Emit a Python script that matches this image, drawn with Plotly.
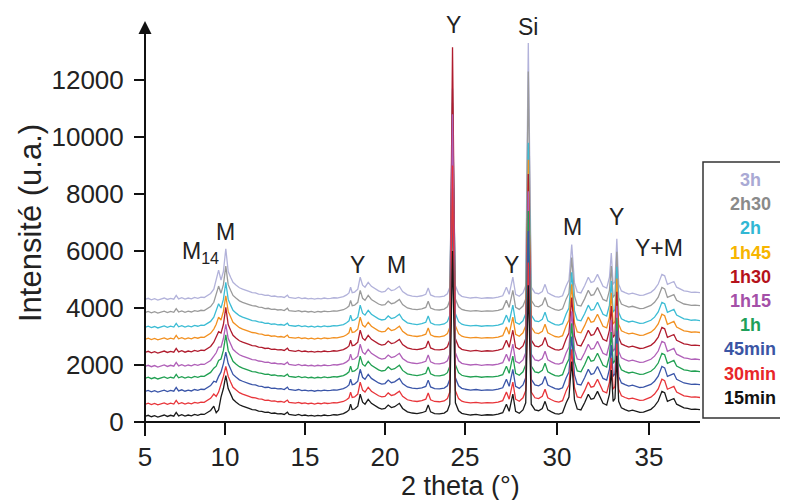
import plotly.graph_objects as go

# ---------------- data ----------------
series = ["15min", "30min", "45min", "1h", "1h15", "1h30", "1h45", "2h", "2h30", "3h"]
line_colors = ["#1a1a1a", "#e8353a", "#3a55a8", "#21a052", "#b060b8",
               "#b01c2e", "#f29020", "#3cbcd4", "#9a9a9a", "#b2b2da"]
text_colors = ["#111111", "#e8262a", "#3a55a4", "#1fa05a", "#a450a8",
               "#b5121b", "#f7b500", "#31b7d4", "#8a8a8a", "#a9a9d4"]

# vertical offset (baseline) of every pattern
baselines = [175, 600, 1050, 1510, 1930, 2420, 2880, 3300, 3820, 4280]
# per-pattern heights above baseline of the M14 shoulder and the M peak
m14_a = [150, 300, 350, 450, 500, 550, 550, 600, 700, 750]
m14_b = [250, 450, 550, 650, 700, 750, 800, 850, 950, 1050]
m_peak = [1450, 1350, 1400, 1550, 1500, 1600, 1550, 1600, 1650, 1800]
# absolute tops of the two very intense lines
y_top = [6000, 9000, 8200, 7600, 10800, 13150, 9800, 11700, 11200, 10600]
si_top = [4800, 5600, 6700, 7400, 8100, 8700, 9200, 9800, 12300, 13300]

# common diffractogram shape (intensity above baseline), 5-25 deg
tt_low = [5.0, 5.2, 5.4, 5.6, 5.8, 6.0, 6.2, 6.4, 6.6, 6.8, 6.95, 7.1, 7.3, 7.5, 7.7,
          7.9, 8.1, 8.3, 8.5, 8.7, 8.9, 9.1, 9.3, 9.45, 9.6, 9.75, 9.9, 10.05, 10.2,
          10.35, 10.5, 10.7, 10.9, 11.1, 11.3, 11.5, 11.7, 11.9, 12.1, 12.3, 12.5,
          12.7, 12.9, 13.1, 13.3, 13.5, 13.7, 13.9, 14.0, 14.2, 14.4, 14.6, 14.8,
          15.0, 15.2, 15.4, 15.6, 15.8, 16.0, 16.2, 16.4, 16.6, 16.8, 17.0, 17.2,
          17.4, 17.6, 17.75, 17.85, 17.95, 18.1, 18.3, 18.45, 18.6, 18.75, 18.95,
          19.15, 19.4, 19.6, 19.8, 20.0, 20.2, 20.4, 20.6, 20.9, 21.1, 21.4, 21.7,
          22.0, 22.3, 22.55, 22.7, 22.85, 23.1, 23.4, 23.7, 23.9, 24.05, 24.22,
          24.4, 24.6, 24.8, 25.0]
prof_low = [20, 60, 10, 50, 0, 40, 70, 20, 60, 30, 160, 40, 80, 30, 70,
            40, 90, 60, 100, 90, 150, 230, 380, "M14a", "M14b", 700, 1000, "M", 1000,
            800, 620, 520, 430, 380, 330, 300, 260, 250, 210, 200, 160,
            170, 130, 140, 110, 120, 90, 170, 90, 80, 60, 90, 50,
            70, 40, 60, 30, 60, 40, 70, 50, 60, 80, 70, 100,
            120, 180, 250, 450, 260, 280, 380, 800, 520, 450, 620,
            480, 380, 320, 280, 300, 420, 330, 360, 480, 300, 180, 140,
            120, 150, 200, 420, 180, 120, 110, 140, 220, 450, "Y",
            500, 220, 130, 100]

# 25-37.8 deg
tt_high = [25.0, 25.3, 25.6, 25.9, 26.2, 26.5, 26.8, 27.05, 27.25, 27.4, 27.6, 27.75,
           27.95, 28.15, 28.3, 28.44, 28.6, 28.8, 29.0, 29.2, 29.35, 29.5, 29.7, 29.9,
           30.1, 30.3, 30.5, 30.65, 30.8, 30.95, 31.1, 31.3, 31.5, 31.7, 31.85, 32.0,
           32.2, 32.35, 32.5, 32.7, 32.85, 32.95, 33.05, 33.15, 33.25, 33.35, 33.5,
           33.7, 33.9, 34.1, 34.3, 34.5, 34.7, 34.9, 35.1, 35.3, 35.5, 35.7, 35.85,
           36.0, 36.2, 36.35, 36.5, 36.7, 36.9, 37.1, 37.3, 37.5, 37.77]
prof_high = [100, 70, 90, 60, 80, 70, 100, 150, 450, 200, 800, 200,
             130, 250, 500, "Si", 450, 250, 220, 300, 550, 250, 180, 120,
             100, 150, 500, 700, 1950, 600, 280, 250, 500, 800, 620, 650,
             900, 700, 480, 420, 800, 1650, 550, 650, 2150, 550, 320,
             260, 210, 240, 190, 160, 170, 210, 270, 380, 560, 900, 850,
             550, 600, 650, 450, 370, 320, 300, 270, 280, 260]

x_ticks_low = [5, 10, 15, 20]
x_ticks_high = [25, 30, 35]
y_ticks = [0, 2000, 4000, 6000, 8000, 10000, 12000]

peak_labels = ["M<sub>14</sub>", "M", "Y", "M", "Y", "Si", "Y", "M", "Y", "Y+M"]
peak_label_x = [8.44, 10.0, 18.31, 20.69, 24.25, 28.42, 27.5, 30.82, 33.21, 35.54]
peak_label_y = [5965, 6667, 5509, 5509, 13930, 13860, 5509, 6842, 7193, 6105]

# ---------------- layout geometry ----------------
# target pixel positions in the window; the page body adds an 8 px offset
OFF = 8
W, H = 788, 500
PLOT_L, PLOT_R, PLOT_T, PLOT_B = 145, 700, 23, 422   # window pixels
L = PLOT_L - OFF
T = PLOT_T - OFF
R = W - (PLOT_R - OFF)
B = H - (PLOT_B - OFF)
PW = PLOT_R - PLOT_L
PH = PLOT_B - PLOT_T
SPLIT = (465 - PLOT_L) / PW   # position of 25 deg (axis has two scales)


def px(xp):
    return (xp - PLOT_L) / PW


def py(yp):
    return (PLOT_B - yp) / PH


def build(i, prof):
    special = {"M14a": m14_a[i], "M14b": m14_b[i], "M": m_peak[i],
               "Y": y_top[i] - baselines[i], "Si": si_top[i] - baselines[i]}
    return [baselines[i] + (special[v] if isinstance(v, str) else v) for v in prof]


fig = go.Figure()
for i in reversed(range(len(series))):
    fig.add_trace(go.Scatter(x=tt_low, y=build(i, prof_low), mode="lines",
                             line=dict(color=line_colors[i], width=1.3),
                             xaxis="x", yaxis="y", showlegend=False, name=series[i]))
    fig.add_trace(go.Scatter(x=tt_high, y=build(i, prof_high), mode="lines",
                             line=dict(color=line_colors[i], width=1.3),
                             xaxis="x2", yaxis="y", showlegend=False, name=series[i]))

tickfont = dict(family="Liberation Sans, Arial, sans-serif", size=26, color="#222")
common_x = dict(showline=False, showgrid=False, zeroline=False, ticks="outside",
                ticklen=12, tickwidth=2, tickcolor="#111", tickfont=tickfont,
                ticklabelstandoff=0, anchor="y")
fig.update_layout(
    width=W, height=H,
    margin=dict(l=L, r=R, t=T, b=B),
    plot_bgcolor="white", paper_bgcolor="white",
    xaxis=dict(domain=[0, SPLIT], range=[5, 25], tickvals=x_ticks_low,
               ticktext=[str(v) for v in x_ticks_low], **common_x),
    xaxis2=dict(domain=[SPLIT, 1], range=[25, 37.77], tickvals=x_ticks_high,
                ticktext=[str(v) for v in x_ticks_high], **common_x),
    yaxis=dict(range=[0, 14000], tickvals=y_ticks, ticktext=[str(v) for v in y_ticks],
               showline=False, showgrid=False, zeroline=False, ticks="outside",
               ticklen=10, tickwidth=2, tickcolor="#111", tickfont=tickfont,
               ticklabelstandoff=5, anchor="x"),
    font=dict(family="Liberation Sans, Arial, sans-serif"),
)

# axis lines (y axis reaching a little below the x axis, as in the figure)
fig.add_shape(type="line", xref="paper", yref="paper", x0=0, x1=0, y0=py(436), y1=1,
              line=dict(color="#111", width=2))
fig.add_shape(type="line", xref="paper", yref="paper", x0=px(136), x1=1, y0=0, y1=0,
              line=dict(color="#111", width=2))
# arrow head on the y axis
fig.add_annotation(x=0, y=py(21), xref="paper", yref="paper", ax=0, ay=14,
                   showarrow=True, arrowhead=2, arrowsize=1.3, arrowwidth=2,
                   arrowcolor="#111", text="")

# axis titles
fig.add_annotation(x=px(460), y=py(486), xref="paper", yref="paper", showarrow=False,
                   text="2 theta (°)", font=dict(size=27, color="#222"),
                   xanchor="center", yanchor="middle")
fig.add_annotation(x=px(30), y=py(223), xref="paper", yref="paper", showarrow=False,
                   text="Intensité (u.a.)", textangle=-90,
                   font=dict(size=31, color="#222"),
                   xanchor="center", yanchor="middle")

# phase labels
for lab, xv, yv in zip(peak_labels, peak_label_x, peak_label_y):
    fig.add_annotation(x=xv, y=yv, xref="x" if xv <= 25 else "x2", yref="y",
                       text=lab, showarrow=False,
                       font=dict(size=23, color="#222"),
                       xanchor="center", yanchor="middle")

# legend box with coloured text
fig.add_shape(type="rect", xref="paper", yref="paper", x0=px(703), x1=px(800),
              y0=py(418), y1=py(162), line=dict(color="#333", width=1.5))
for k, i in enumerate(reversed(range(len(series)))):
    fig.add_annotation(x=px(750), y=py(180 + 24.2 * k), xref="paper", yref="paper",
                       text="<b>" + series[i] + "</b>", showarrow=False,
                       font=dict(size=18, color=text_colors[i]),
                       xanchor="center", yanchor="middle")

fig.write_html("out.html")
